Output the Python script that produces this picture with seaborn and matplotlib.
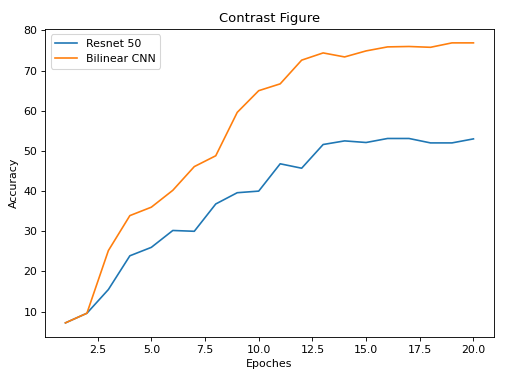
import matplotlib
matplotlib.use("Agg")
import matplotlib.pyplot as plt
import numpy as np
import pandas as pd
import seaborn as sbn

# accuracy per epoch for the two models
epochs = list(range(1, 21))
resnet_acc = [7.2, 9.6, 15.5, 23.9, 26.0, 30.2, 30.0, 36.8, 39.6, 40.0,
              46.8, 45.7, 51.6, 52.5, 52.1, 53.1, 53.1, 52.0, 52.0, 53.0]
bilinear_acc = [7.2, 9.6, 25.2, 33.9, 36.0, 40.2, 46.1, 48.8, 59.6, 65.0,
                66.7, 72.6, 74.4, 73.4, 74.9, 75.9, 76.0, 75.8, 76.9, 76.9]
series_names = ["Resnet 50", "Bilinear CNN"]

# long format table for seaborn
df = pd.DataFrame({
    "epoch": epochs * 2,
    "acc": resnet_acc + bilinear_acc,
    "model": [series_names[0]] * len(epochs) + [series_names[1]] * len(epochs),
})

# the reference looks like a default 6.4x4.8 figure shrunk, so render at 79 dpi
dpi = 79
fig = plt.figure(figsize=(506 / dpi, 385 / dpi), dpi=dpi)
ax = fig.add_axes([0.089, 0.125, 0.887, 0.80])
sbn.lineplot(data=df, x="epoch", y="acc", hue="model", hue_order=series_names,
             palette=["#1f77b4", "#ff7f0e"], linewidth=1.5, ax=ax)
ax.set_title("Contrast Figure")
ax.set_xlabel("Epoches")
ax.set_ylabel("Accuracy")
ax.legend(loc="upper left", title=None)
fig.savefig("out.png", dpi=dpi)
